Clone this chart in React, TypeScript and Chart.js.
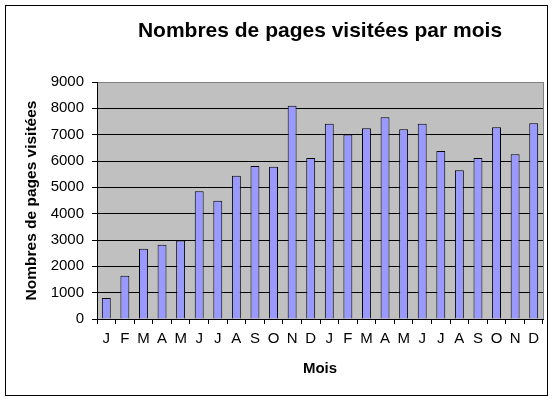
import { useEffect, useRef } from "react";
import { Chart, registerables } from "chart.js";

Chart.register(...registerables);

const months = ["J", "F", "M", "A", "M", "J", "J", "A", "S", "O", "N", "D", "J", "F", "M", "A", "M", "J", "J", "A", "S", "O", "N", "D"];
const pageViews = [800, 1640, 2670, 2820, 2980, 4850, 4490, 5440, 5810, 5780, 8100, 6110, 7410, 7010, 7240, 7660, 7210, 7410, 6380, 5650, 6110, 7280, 6260, 7430];
const yTicks = [0, 1000, 2000, 3000, 4000, 5000, 6000, 7000, 8000, 9000];

const FONT = "Arial, 'Liberation Sans', sans-serif";

const framePlugin = {
  id: "frame",
  beforeDraw(chart: Chart) {
    const { ctx, chartArea } = chart;
    ctx.save();
    ctx.fillStyle = "#ffffff";
    ctx.fillRect(0, 0, chart.width, chart.height);
    ctx.strokeStyle = "#000000";
    ctx.lineWidth = 1;
    ctx.strokeRect(5.5, 5.5, 542, 390);
    ctx.fillStyle = "#c0c0c0";
    ctx.fillRect(chartArea.left, chartArea.top, chartArea.right - chartArea.left, chartArea.bottom - chartArea.top);
    ctx.strokeStyle = "#808080";
    ctx.strokeRect(chartArea.left + 0.5, chartArea.top + 0.5, chartArea.right - chartArea.left, chartArea.bottom - chartArea.top);
    ctx.restore();
  },
};

export default function App() {
  const canvasRef = useRef<HTMLCanvasElement | null>(null);

  useEffect(() => {
    if (!canvasRef.current) return;
    const chart = new Chart(canvasRef.current, {
      type: "bar",
      data: {
        labels: months,
        datasets: [
          {
            data: pageViews,
            backgroundColor: "#9999ff",
            borderColor: "#000000",
            borderWidth: 1,
            categoryPercentage: 1,
            barPercentage: 0.48,
          },
        ],
      },
      options: {
        responsive: false,
        animation: false,
        devicePixelRatio: 1,
        layout: { padding: { left: 0, right: 13, top: 0, bottom: 0 } },
        plugins: {
          legend: { display: false },
          tooltip: { enabled: false },
          title: {
            display: true,
            text: "Nombres de pages visitées par mois",
            color: "#000",
            fullSize: false,
            font: { family: FONT, size: 21, weight: "bold" },
            padding: { top: 19, bottom: 37.8 },
          },
        },
        scales: {
          x: {
            afterFit: (scale) => {
              scale.height = 81;
            },
            grid: {
              offset: true,
              drawOnChartArea: false,
              drawTicks: true,
              tickLength: 5,
              tickColor: "#000",
            },
            border: { color: "#000", width: 1 },
            ticks: {
              color: "#000",
              font: { family: FONT, size: 15 },
              padding: 6,
              maxRotation: 0,
              autoSkip: false,
            },
            title: {
              display: true,
              text: "Mois",
              color: "#000",
              font: { family: FONT, size: 15, weight: "bold" },
              padding: { top: 0, bottom: 22 },
            },
          },
          y: {
            min: 0,
            max: 9000,
            afterFit: (scale) => {
              scale.width = 97;
            },
            afterBuildTicks: (scale) => {
              scale.ticks = yTicks.map((v) => ({ value: v }));
            },
            grid: {
              color: (ctx) => (ctx.tick && ctx.tick.value === 9000 ? "#808080" : "#000"),
              tickColor: "#000",
              tickLength: 5,
            },
            border: { color: "#000", width: 1 },
            ticks: {
              color: "#000",
              font: { family: FONT, size: 15 },
              padding: 8,
              callback: (value) => String(value),
            },
            title: {
              display: true,
              text: "Nombres de pages visitées",
              color: "#000",
              font: { family: FONT, size: 15.5, weight: "bold" },
              padding: { top: 22, bottom: 0 },
            },
          },
        },
      },
      plugins: [framePlugin],
    });
    return () => chart.destroy();
  }, []);

  return (
    <div style={{ position: "absolute", left: 0, top: 0, width: 556, height: 400 }}>
      <canvas ref={canvasRef} width={556} height={400} />
    </div>
  );
}
